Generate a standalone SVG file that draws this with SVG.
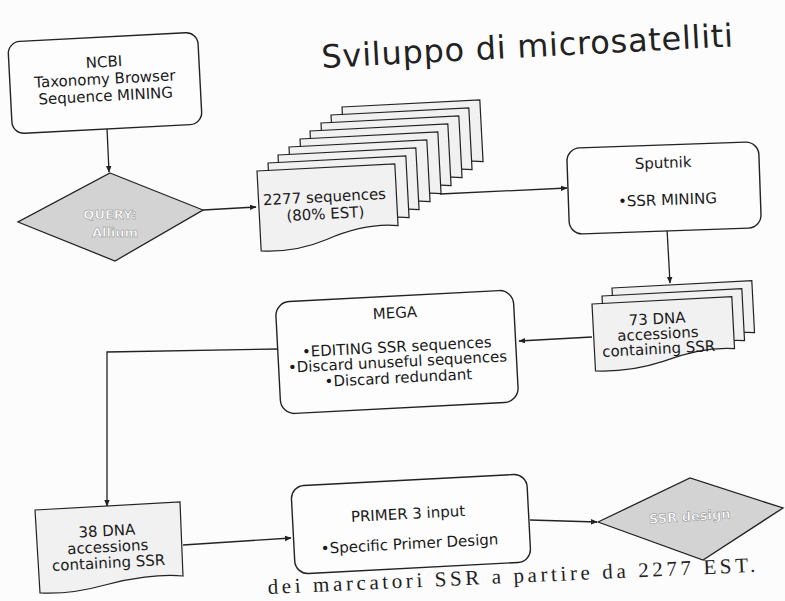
<svg xmlns="http://www.w3.org/2000/svg" width="785" height="601" viewBox="0 0 785 601">
<defs>
<style>
.box{fill:#fdfdfd;stroke:#222;stroke-width:1.4}
.doc{fill:#f1f1f1;stroke:#222;stroke-width:1.2}
.dia{fill:#d3d3d3;stroke:#222;stroke-width:1.3}
.t{font-family:"DejaVu Sans",Verdana,sans-serif;font-size:15px;fill:#1a1a1a;text-anchor:middle}
.w{font-family:"DejaVu Sans",Verdana,sans-serif;font-size:13px;font-weight:bold;fill:#fff;stroke:#8a8a8a;stroke-width:0.5;text-anchor:middle}
.ln{fill:none;stroke:#222;stroke-width:1.3}
</style>
<marker id="ar" viewBox="0 0 10 10" refX="9" refY="5" markerWidth="7" markerHeight="7" orient="auto" markerUnits="userSpaceOnUse">
<path d="M0,1 L10,5 L0,9 Z" fill="#222"/>
</marker>
<path id="docA" d="M0,0 L138,0 L138,62 C112,58 88,64 66,72 C44,80 20,82 0,80 Z"/>
<path id="docB" d="M0,0 L140,0 L140,52 C114,49 90,54 68,61 C46,67 22,69 0,67 Z"/>
</defs>
<rect width="785" height="601" fill="#fcfcfc"/>

<text x="322" y="68" transform="rotate(-3 322 68)" font-family="DejaVu Sans,Verdana,sans-serif" font-size="32" fill="#222" textLength="412">Sviluppo di microsatelliti</text>

<g id="connectors">
<path class="ln" d="M107,128 L109,172" marker-end="url(#ar)"/>
<path class="ln" d="M203,210 L256,207" marker-end="url(#ar)"/>
<path class="ln" d="M440,194 L567,188" marker-end="url(#ar)"/>
<path class="ln" d="M667,229 L670,283" marker-end="url(#ar)"/>
<path class="ln" d="M592,337 L519,341" marker-end="url(#ar)"/>
<path class="ln" d="M278,349 L107,352 L107,506" marker-end="url(#ar)"/>
<path class="ln" d="M183,545 L291,538" marker-end="url(#ar)"/>
<path class="ln" d="M530,520 L597,522" marker-end="url(#ar)"/>
</g>

<g id="ncbi">
<rect class="box" x="-95" y="-46" width="190" height="92" rx="12" transform="translate(105,83) rotate(-3)"/>
<g transform="translate(105,83) rotate(-3)">
<text class="t" x="0" y="-16">NCBI</text>
<text class="t" x="0" y="1">Taxonomy Browser</text>
<text class="t" x="0" y="18">Sequence MINING</text>
</g>
</g>

<g id="query">
<polygon class="dia" points="110,173 203,210 115,261 18,222"/>
<text class="w" x="110" y="219">QUERY:</text>
<text class="w" x="115" y="237">Allium</text>
</g>

<g id="sequences">
<use href="#docA" class="doc" transform="translate(342,107) rotate(-3)"/>
<use href="#docA" class="doc" transform="translate(331,115) rotate(-3)"/>
<use href="#docA" class="doc" transform="translate(321,123) rotate(-3)"/>
<use href="#docA" class="doc" transform="translate(310,131) rotate(-3)"/>
<use href="#docA" class="doc" transform="translate(300,139) rotate(-3)"/>
<use href="#docA" class="doc" transform="translate(289,147) rotate(-3)"/>
<use href="#docA" class="doc" transform="translate(278,155) rotate(-3)"/>
<use href="#docA" class="doc" transform="translate(268,163) rotate(-3)"/>
<use href="#docA" class="doc" transform="translate(257,171) rotate(-3)"/>
<g transform="translate(325,207) rotate(-3)">
<text class="t" x="0" y="-5">2277 sequences</text>
<text class="t" x="0" y="12">(80% EST)</text>
</g>
</g>

<g id="sputnik">
<rect class="box" x="-96" y="-43" width="192" height="86" rx="13" transform="translate(664,188) rotate(-2)"/>
<g transform="translate(664,188) rotate(-2)">
<text class="t" x="0" y="-20">Sputnik</text>
<text class="t" x="3" y="17">•SSR MINING</text>
</g>
</g>

<g id="dna73">
<use href="#docB" class="doc" transform="translate(612,288) rotate(-3)"/>
<use href="#docB" class="doc" transform="translate(602,296) rotate(-3)"/>
<use href="#docB" class="doc" transform="translate(592,304) rotate(-3)"/>
<g transform="translate(658,336) rotate(-3)">
<text class="t" x="0" y="-12">73 DNA</text>
<text class="t" x="0" y="3">accessions</text>
<text class="t" x="0" y="18">containing SSR</text>
</g>
</g>

<g id="mega">
<rect class="box" x="-119" y="-56" width="238" height="112" rx="14" transform="translate(397,352) rotate(-3)"/>
<g transform="translate(397,352) rotate(-3)">
<text class="t" x="0" y="-34">MEGA</text>
<text class="t" x="0" y="0">•EDITING SSR sequences</text>
<text class="t" x="0" y="15">•Discard unuseful sequences</text>
<text class="t" x="0" y="31">•Discard redundant</text>
</g>
</g>

<g id="dna38">
<path class="doc" d="M35,510 L180,502 L183,576 C160,574 130,578 105,585 C80,592 60,594 40,593 Z"/>
<g transform="translate(108,552) rotate(-3)">
<text class="t" x="0" y="-16">38 DNA</text>
<text class="t" x="0" y="0">accessions</text>
<text class="t" x="0" y="16">containing SSR</text>
</g>
</g>

<g id="primer">
<rect class="box" x="-118" y="-45" width="236" height="88" rx="13" transform="translate(411,525) rotate(-3)"/>
<g transform="translate(409,533) rotate(-3)">
<text class="t" x="0" y="-14">PRIMER 3 input</text>
<text class="t" x="0" y="16">•Specific Primer Design</text>
</g>
</g>

<g id="ssrdesign">
<polygon class="dia" points="598,522 690,478 783,508 703,560"/>
<text class="w" x="690" y="521" transform="rotate(-4 690 521)">SSR design</text>
</g>

<text x="268" y="594" transform="rotate(-2.6 268 594)" font-family="Liberation Serif,Times New Roman,serif" font-size="21" fill="#222" textLength="488">dei marcatori SSR a partire da 2277 EST.</text>
</svg>
